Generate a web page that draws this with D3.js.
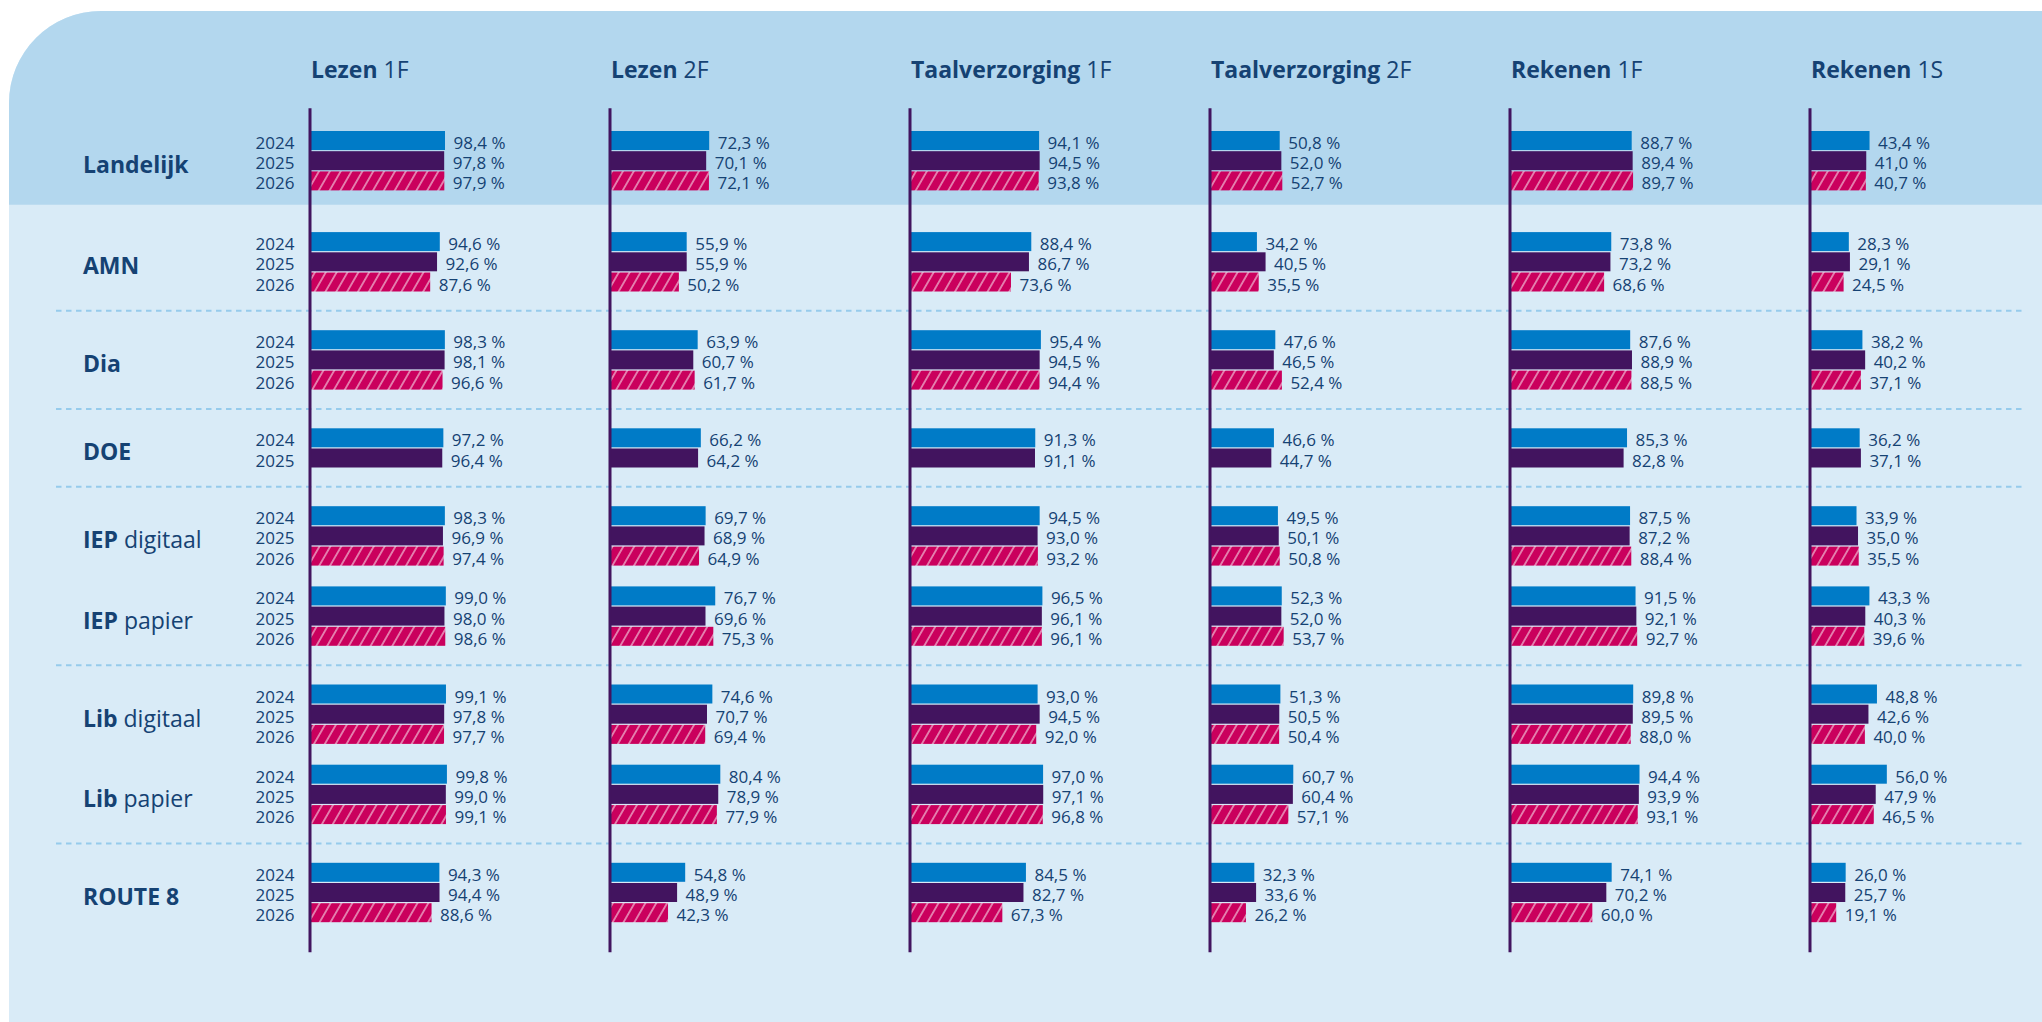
<!DOCTYPE html>
<html>
<head>
<meta charset="utf-8">
<script src="https://cdn.jsdelivr.net/npm/d3@7"></script>
<style>
  html, body { margin: 0; padding: 0; background: #fff; }
  svg { display: block; font-family: "Open Sans", "Noto Sans", sans-serif; }
</style>
</head>
<body>
<div id="chart"></div>
<script>
// Behaalde referentieniveaus per toetsaanbieder, 2024–2026 (2026 gearceerd).

const years = ["2024", "2025", "2026"];
const subjectNames = ["Lezen", "Lezen", "Taalverzorging", "Taalverzorging", "Rekenen", "Rekenen"];
const subjectLevels = ["1F", "2F", "1F", "2F", "1F", "1S"];

const rowNames = ["Landelijk", "AMN", "Dia", "DOE", "IEP", "IEP", "Lib", "Lib", "ROUTE 8"];
const rowSuffixes = ["", "", "", "", "digitaal", "papier", "digitaal", "papier", ""];
// rows in the same section are not split by a dashed line
const rowSections = [0, 1, 2, 3, 4, 4, 5, 5, 6];

// one array per subject, one entry per row, values per year (DOE has no 2026)
const lezen1F = [[98.4, 97.8, 97.9], [94.6, 92.6, 87.6], [98.3, 98.1, 96.6], [97.2, 96.4],
  [98.3, 96.9, 97.4], [99.0, 98.0, 98.6], [99.1, 97.8, 97.7], [99.8, 99.0, 99.1], [94.3, 94.4, 88.6]];
const lezen2F = [[72.3, 70.1, 72.1], [55.9, 55.9, 50.2], [63.9, 60.7, 61.7], [66.2, 64.2],
  [69.7, 68.9, 64.9], [76.7, 69.6, 75.3], [74.6, 70.7, 69.4], [80.4, 78.9, 77.9], [54.8, 48.9, 42.3]];
const taal1F = [[94.1, 94.5, 93.8], [88.4, 86.7, 73.6], [95.4, 94.5, 94.4], [91.3, 91.1],
  [94.5, 93.0, 93.2], [96.5, 96.1, 96.1], [93.0, 94.5, 92.0], [97.0, 97.1, 96.8], [84.5, 82.7, 67.3]];
const taal2F = [[50.8, 52.0, 52.7], [34.2, 40.5, 35.5], [47.6, 46.5, 52.4], [46.6, 44.7],
  [49.5, 50.1, 50.8], [52.3, 52.0, 53.7], [51.3, 50.5, 50.4], [60.7, 60.4, 57.1], [32.3, 33.6, 26.2]];
const rekenen1F = [[88.7, 89.4, 89.7], [73.8, 73.2, 68.6], [87.6, 88.9, 88.5], [85.3, 82.8],
  [87.5, 87.2, 88.4], [91.5, 92.1, 92.7], [89.8, 89.5, 88.0], [94.4, 93.9, 93.1], [74.1, 70.2, 60.0]];
const rekenen1S = [[43.4, 41.0, 40.7], [28.3, 29.1, 24.5], [38.2, 40.2, 37.1], [36.2, 37.1],
  [33.9, 35.0, 35.5], [43.3, 40.3, 39.6], [48.8, 42.6, 40.0], [56.0, 47.9, 46.5], [26.0, 25.7, 19.1]];
const subjectValues = [lezen1F, lezen2F, taal1F, taal2F, rekenen1F, rekenen1S];

const W = 2042, H = 1022;
const INK = "#154273";
const yearColor = { "2024": "#007bc7", "2025": "#42145f", "2026": "url(#hatch)" };
const fmt = v => d3.format(".1f")(v).replace(".", ",") + " %";

// vertical layout: bars step 20.2px, groups stacked with a gap
const step = 20.2, barH = 19;
const gapIn = 19.6, gapSection = 37.5, gapHeader = 40.5;
const groupH = n => (n - 1) * step + barH;
const tops = [];
rowNames.forEach((_, i) => {
  if (i === 0) { tops.push(131); return; }
  const prevN = subjectValues[0][i - 1].length;
  const gap = i === 1 ? gapHeader : (rowSections[i] === rowSections[i - 1] ? gapIn : gapSection);
  tops.push(tops[i - 1] + prevN * step + gap);
});
const nBars = i => subjectValues[0][i].length;
const headerBottom = tops[0] + groupH(nBars(0)) + 14.3;
const lastRow = rowNames.length - 1;
const axisTop = tops[0] - 22.7;
const axisBottom = tops[lastRow] + groupH(nBars(lastRow)) + 30;

const subjects = subjectNames.map((d, i) => i);
const colX = d3.scaleBand().domain(subjects).range([310, 310 + 300 * subjects.length]);
const x = d3.scaleLinear().domain([0, 100]).range([0, 137.2]);
const yYear = d3.scaleBand().domain(years).range([0, groupH(3)]).paddingInner((step - barH) / step);

const svg = d3.select("#chart").append("svg").attr("width", W).attr("height", H);

const defs = svg.append("defs");
const pat = defs.append("pattern").attr("id", "hatch")
  .attr("patternUnits", "userSpaceOnUse").attr("width", 9.4).attr("height", 9.4)
  .attr("patternTransform", "rotate(30)");
pat.append("rect").attr("width", 9.4).attr("height", 9.4).attr("fill", "#ca005d");
pat.append("line").attr("x1", 4.7).attr("x2", 4.7).attr("y1", 0).attr("y2", 9.4)
  .attr("stroke", "#fff").attr("stroke-opacity", 0.85).attr("stroke-width", 1.1);

// card background with rounded top-left corner
const cx = 9, cy = 11, r = 92;
const card = (y0, y1) => `M${cx},${y1} L${cx},${y0 + r} A${r},${r} 0 0 1 ${cx + r},${y0} L${W + 5},${y0} L${W + 5},${y1} Z`;
svg.append("path").attr("d", card(cy, H + 5)).attr("fill", "#d9ebf7");
svg.append("path").attr("d", card(cy, headerBottom)).attr("fill", "#b3d7ee");

// dashed separators between sections (not in the header)
const seps = rowNames.map((_, i) => i).filter(i => i > 1 && rowSections[i] !== rowSections[i - 1]);
svg.append("g").selectAll("line").data(seps).join("line")
  .attr("x1", 56).attr("x2", 2022)
  .attr("y1", i => (tops[i - 1] + groupH(nBars(i - 1)) + tops[i]) / 2)
  .attr("y2", i => (tops[i - 1] + groupH(nBars(i - 1)) + tops[i]) / 2)
  .attr("stroke", "#96cbec").attr("stroke-width", 2).attr("stroke-dasharray", "5.5 4.5");

// column headers
const head = svg.append("g").selectAll("text").data(subjects).join("text")
  .attr("x", d => colX(d) + 1).attr("y", 77.5)
  .attr("font-size", 23).attr("fill", INK);
head.append("tspan").attr("font-weight", 700).text(d => subjectNames[d]);
head.append("tspan").attr("font-weight", 400).text(d => " " + subjectLevels[d]);

// row labels
const rowLab = svg.append("g").selectAll("text").data(rowNames.map((_, i) => i)).join("text")
  .attr("x", 83).attr("y", i => tops[i] + groupH(nBars(i)) / 2 + 12.5)
  .attr("font-size", 23).attr("fill", INK);
rowLab.append("tspan").attr("font-weight", 700).text(i => rowNames[i]);
rowLab.append("tspan").attr("font-weight", 400).text(i => rowSuffixes[i] ? " " + rowSuffixes[i] : "");

// year labels next to the first column
const yearRows = rowNames.flatMap((_, i) => years.slice(0, nBars(i)).map(y => ({ i, y })));
svg.append("g").selectAll("text").data(yearRows).join("text")
  .attr("x", colX(0) - 15.5).attr("y", d => tops[d.i] + yYear(d.y) + 18)
  .attr("text-anchor", "end").attr("font-size", 17).attr("fill", INK)
  .text(d => d.y);

// bars and value labels
const bars = subjects.flatMap(s => subjectValues[s].flatMap((vals, i) =>
  vals.map((v, k) => ({ s, i, year: years[k], v }))));

const gBars = svg.append("g");
gBars.selectAll("rect").data(bars).join("rect")
  .attr("x", d => colX(d.s))
  .attr("y", d => tops[d.i] + yYear(d.year))
  .attr("width", d => x(d.v))
  .attr("height", yYear.bandwidth())
  .attr("fill", d => yearColor[d.year]);

gBars.selectAll("text").data(bars).join("text")
  .attr("x", d => colX(d.s) + x(d.v) + 8.5)
  .attr("y", d => tops[d.i] + yYear(d.year) + 18)
  .attr("font-size", 17).attr("fill", INK)
  .text(d => fmt(d.v));

// vertical baseline per column
svg.append("g").selectAll("line").data(subjects).join("line")
  .attr("x1", d => colX(d)).attr("x2", d => colX(d))
  .attr("y1", axisTop).attr("y2", axisBottom)
  .attr("stroke", "#42145f").attr("stroke-width", 3);
</script>
</body>
</html>
